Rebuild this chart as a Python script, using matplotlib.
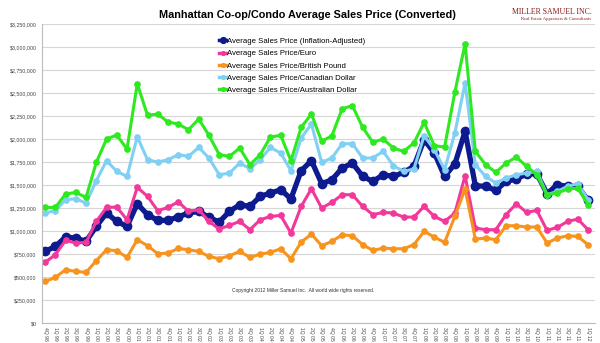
import matplotlib
matplotlib.use("Agg")
from matplotlib import pyplot as plt
from matplotlib.ticker import FuncFormatter

plt.rcParams['font.family'] = ['Liberation Sans', 'DejaVu Sans']

# quarters 4Q98 .. 1Q12
quarters = ["4Q 98"]
for yr in range(99, 113):
    for q in range(1, 5):
        quarters.append("%dQ %02d" % (q, yr % 100))
quarters = quarters[:54]

# values in thousands of USD
inflation_adj = [779, 833, 935, 924, 888, 1051, 1196, 1105, 1051, 1297, 1178, 1116, 1116, 1155,
                 1196, 1214, 1149, 1098, 1214, 1286, 1268, 1377, 1413, 1449, 1351, 1656, 1765,
                 1515, 1558, 1685, 1739, 1594, 1540, 1612, 1594, 1638, 1703, 1993, 1848, 1594,
                 1730, 2083, 1493, 1486, 1442, 1540, 1565, 1620, 1623, 1406, 1504, 1486, 1486, 1333]
euro = [660, 743, 899, 870, 877, 1105, 1257, 1261, 1123, 1475, 1377, 1221, 1257, 1318,
        1214, 1232, 1105, 1022, 1062, 1105, 1015, 1123, 1159, 1170, 978, 1268, 1460,
        1250, 1312, 1395, 1395, 1268, 1178, 1203, 1196, 1152, 1152, 1268, 1159, 1105,
        1196, 1601, 1033, 1015, 1015, 1178, 1297, 1203, 1225, 1007, 1040, 1105, 1130, 1015]
pound = [453, 496, 580, 562, 551, 678, 797, 786, 714, 906, 841, 754, 761, 811,
         797, 779, 725, 699, 732, 779, 714, 750, 768, 808, 699, 880, 967,
         841, 888, 960, 949, 852, 790, 815, 808, 808, 852, 996, 935, 877,
         1160, 1457, 913, 924, 906, 1058, 1058, 1044, 1044, 870, 924, 949, 942, 852]
canadian = [1196, 1221, 1341, 1351, 1304, 1547, 1765, 1649, 1594, 2025, 1775, 1750, 1775, 1830,
            1812, 1909, 1793, 1612, 1630, 1739, 1678, 1775, 1909, 1848, 1656, 2011, 2163,
            1746, 1794, 1949, 1949, 1794, 1794, 1866, 1710, 1649, 1674, 2036, 1884, 1667,
            2065, 2609, 1721, 1594, 1522, 1576, 1612, 1630, 1649, 1395, 1431, 1486, 1515, 1341]
australian = [1257, 1257, 1402, 1420, 1366, 1746, 2000, 2043, 1891, 2601, 2257, 2272, 2185, 2163,
              2101, 2217, 2040, 1830, 1812, 1902, 1721, 1830, 2022, 2040, 1765, 2127, 2272,
              1975, 2036, 2330, 2362, 2127, 1964, 2000, 1902, 1866, 1957, 2181, 1928, 1913,
              2509, 3036, 1866, 1721, 1638, 1739, 1804, 1703, 1612, 1395, 1413, 1457, 1467, 1286]

series = [
    ("Average Sales Price (Inflation-Adjusted)", inflation_adj, "#0d1b8e", 3.8, 6.0),
    ("Average Sales Price/Euro", euro, "#f2389a", 2.2, 3.8),
    ("Average Sales Price/British Pound", pound, "#f7941d", 2.2, 3.8),
    ("Average Sales Price/Canadian Dollar", canadian, "#80d0f4", 2.2, 3.8),
    ("Average Sales Price/Australian Dollar", australian, "#2ee820", 2.2, 3.8),
]

fig = plt.figure(figsize=(6, 3.43), dpi=100)
ax = fig.add_axes([0.07, 0.058, 0.922, 0.872])

x = list(range(len(quarters)))
for name, vals, col, lw, ms in series:
    ax.plot(x, [v * 1000 for v in vals], color=col, lw=lw, marker="o", ms=ms,
            label=name, solid_joinstyle="round")

ax.set_xlim(-0.3, 53.7)
ax.set_ylim(0, 3250000)
ax.set_yticks(range(0, 3250001, 250000))
ax.yaxis.set_major_formatter(FuncFormatter(lambda v, p: "${:,.0f}".format(v)))
ax.set_xticks(x)
ax.set_xticklabels(quarters, rotation=270, fontsize=3.6, color="#444444")
ax.tick_params(axis="y", labelsize=3.8, length=0, labelcolor="#444444", pad=4)
ax.tick_params(axis="x", length=0, pad=3)
ax.grid(axis="y", color="#d6d6d6", lw=0.8)
ax.set_axisbelow(True)
for s in ["top", "right"]:
    ax.spines[s].set_visible(False)
for s in ["left", "bottom"]:
    ax.spines[s].set_color("#bbbbbb")
    ax.spines[s].set_linewidth(0.8)

leg = ax.legend(loc="upper left", bbox_to_anchor=(0.315, 0.965), frameon=False,
                fontsize=5.6, handlelength=0.9, handletextpad=0.05, labelspacing=0.62,
                borderaxespad=0, markerscale=0.7)
for line in leg.get_lines():
    line.set_linewidth(2.5)

fig.text(0.513, 0.957, "Manhattan Co-op/Condo Average Sales Price (Converted)",
         ha="center", va="center", fontsize=7.8, fontweight="bold")
fig.text(0.986, 0.964, "MILLER SAMUEL INC.", ha="right", va="center", fontsize=5.6,
         color="#8b1a1a", family="Liberation Serif")
fig.text(0.985, 0.944, "Real Estate Appraisers & Consultants", ha="right", va="center",
         fontsize=3.3, color="#8b1a1a", family="Liberation Serif")
fig.text(0.505, 0.152, "Copyright 2012 Miller Samuel Inc.  All world wide rights reserved.",
         ha="center", va="center", fontsize=3.5, color="#333333")

fig.savefig("out.png", dpi=100)
